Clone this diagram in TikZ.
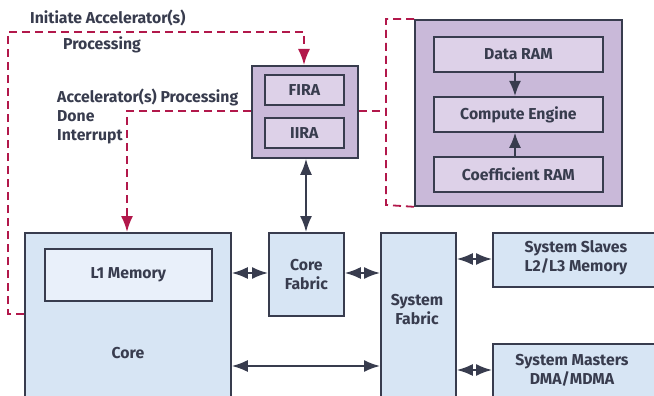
\documentclass[tikz,border=0pt]{standalone}
\usepackage{fontspec}
\setmainfont{Fira Sans}
\usetikzlibrary{arrows.meta}
\definecolor{dk}{HTML}{383C4E}
\definecolor{bluef}{HTML}{D7E5F4}
\definecolor{bluel}{HTML}{E9F0FA}
\definecolor{purpo}{HTML}{C9B9D9}
\definecolor{purpi}{HTML}{DDD1E8}
\definecolor{rd}{HTML}{B2184B}
\tikzset{
  box/.style={draw=dk, line width=1.8pt, anchor=north west, inner sep=0pt},
  txt/.style={text=dk, font=\fontsize{15.8}{19}\selectfont\bfseries, align=center, inner sep=0pt},
  ltxt/.style={text=dk, font=\fontsize{15.8}{19}\selectfont\bfseries, align=left, inner sep=0pt, anchor=west},
  arr/.style={draw=dk, line width=1.8pt, {Latex[length=16pt,width=12pt]}-{Latex[length=16pt,width=12pt]}},
  arrone/.style={draw=dk, line width=1.8pt, -{Latex[length=15pt,width=12pt]}},
  dsh/.style={draw=rd, line width=1.8pt, dash pattern=on 8pt off 5pt},
  dsharr/.style={dsh, -{Latex[length=16pt,width=12pt]}},
}
\begin{document}
\begin{tikzpicture}[x=1pt,y=-1pt]
\useasboundingbox (0,0) rectangle (654,396);
\clip (0,0) rectangle (654,396);
% core
\node[box, fill=bluef, minimum width=206pt, minimum height=180pt] (core) at (24,232) {};
\node[box, fill=bluel, minimum width=167pt, minimum height=52pt] (l1) at (44,248) {};
\node[txt] (l1t) at (l1.center) {L1 Memory};
\node[txt] (coret) at (128,353) {Core};
% core fabric
\node[box, fill=bluef, minimum width=75pt, minimum height=83pt] (cfab) at (268,232) {};
\node[txt] (cfabt) at (cfab.center) {Core\\Fabric};
% system fabric
\node[box, fill=bluef, minimum width=75pt, minimum height=180pt] (sfab) at (380,232) {};
\node[txt] (sfabt) at (417,310) {System\\Fabric};
% slaves / masters
\node[box, fill=bluef, minimum width=180pt, minimum height=54pt] (slv) at (492,232) {};
\node[txt] (slvt) at (576,258) {System Slaves\\L2/L3 Memory};
\node[box, fill=bluef, minimum width=180pt, minimum height=70pt] (mst) at (492,343) {};
\node[txt] (mstt) at (572,370) {System Masters\\DMA/MDMA};
% accelerator block
\node[box, fill=purpo, minimum width=106pt, minimum height=92pt] (acc) at (251,65) {};
\node[box, fill=purpi, minimum width=79pt, minimum height=30pt] (fira) at (264,74) {};
\node[txt] (firat) at (fira.center) {FIRA};
\node[box, fill=purpi, minimum width=79pt, minimum height=30pt] (iira) at (264,117) {};
\node[txt] (iirat) at (iira.center) {IIRA};
% compute block
\node[box, fill=purpo, minimum width=207pt, minimum height=186pt] (cmp) at (414,19) {};
\node[box, fill=purpi, minimum width=169pt, minimum height=35pt] (dram) at (433,36) {};
\node[txt] (dramt) at (dram.center) {Data RAM};
\node[box, fill=purpi, minimum width=169pt, minimum height=35pt] (ceng) at (433,96) {};
\node[txt] (cengt) at (ceng.center) {Compute Engine};
\node[box, fill=purpi, minimum width=169pt, minimum height=35pt] (cram) at (433,156) {};
\node[txt] (cramt) at (cram.center) {Coefficient RAM};
% solid arrows
\draw[arrone] (dram.south -| 515,0) -- (ceng.north -| 515,0);
\draw[arrone] (cram.north -| 515,0) -- (ceng.south -| 515,0);
\draw[arr] (acc.south -| 306,0) -- (cfab.north -| 306,0);
\draw[arr] (core.east |- 0,273) -- (cfab.west |- 0,273);
\draw[arr] (cfab.east |- 0,273) -- (sfab.west |- 0,273);
\draw[arr] (sfab.east |- 0,259) -- (slv.west |- 0,259);
\draw[arr] (sfab.east |- 0,370) -- (mst.west |- 0,370);
\draw[arr] (core.east |- 0,366) -- (sfab.west |- 0,366);
% dashed
\coordinate (bt) at (386,19);
\coordinate (bb) at (386,205);
\draw[dsh] (cmp.north west) -- (bt) -- (bb) -- (cmp.south west);
\draw[dsh] (acc.east |- 0,111) -- (bt |- 0,111);
\coordinate (il) at (8,314);
\coordinate (it) at (8,32);
\coordinate (ir) at (304,32);
\draw[dsharr] (core.west |- il) -- (il) -- (it) -- (ir) -- (acc.north -| ir);
\coordinate (dc) at (127,111);
\draw[dsharr] (acc.west |- dc) -- (dc) -- (core.north -| dc);
% labels
\node[ltxt] (lab1) at (30,18) {Initiate Accelerator(s)};
\node[ltxt] (lab2) at (63,45) {Processing};
\node[ltxt, anchor=north west] (lab3) at (57,89) {Accelerator(s) Processing\\Done\\Interrupt};
\end{tikzpicture}
\end{document}
